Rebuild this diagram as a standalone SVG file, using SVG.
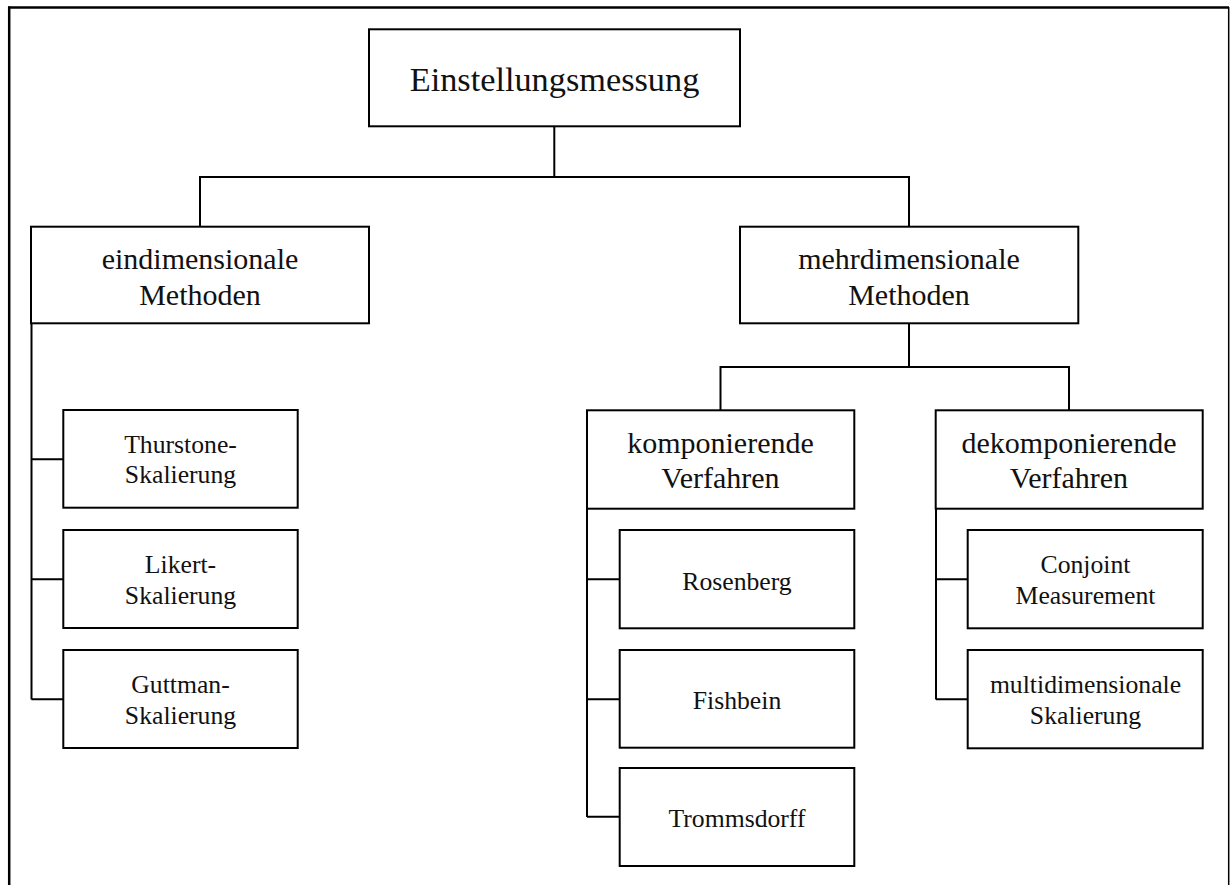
<svg xmlns="http://www.w3.org/2000/svg" width="1230" height="885" viewBox="0 0 1230 885">
  <style>
    .box { fill: #fff; stroke: #000; stroke-width: 2; }
    .link { fill: none; stroke: #000; stroke-width: 2; }
    text { font-family: "Liberation Serif", "Times New Roman", serif; fill: #111; text-anchor: middle; }
    .t1 { font-size: 34.3px; }
    .t2 { font-size: 30px; }
    .t3 { font-size: 25.7px; }
  </style>
  <rect width="1230" height="885" fill="#fff"/>

  <!-- outer frame (open at the bottom) -->
  <g id="frame" fill="none" stroke="#000">
    <line x1="8" y1="7.5" x2="1229" y2="7.5" stroke-width="2.5"/>
    <line x1="9.2" y1="6.5" x2="9.2" y2="885" stroke-width="2.5"/>
    <line x1="1228.7" y1="7" x2="1228.7" y2="885" stroke-width="1.5"/>
  </g>

  <!-- connectors -->
  <g id="connectors" class="link">
    <path d="M554.3 126 V177 M200 227 V177 H909 V227"/>
    <path d="M31.5 323 V699.5 M31.5 459.3 H63.5 M31.5 579.3 H63.5 M31.5 699.3 H63.5"/>
    <path d="M909 323 V367 M720.5 410 V367 H1069 V410"/>
    <path d="M587 509 V817 M587 579.3 H620 M587 699.3 H620 M587 816.8 H620"/>
    <path d="M936 509 V699.5 M936 579.3 H968 M936 699.3 H968"/>
  </g>

  <g id="n-einstellungsmessung">
    <rect class="box" x="369" y="29.3" width="371" height="97"/>
    <text class="t1" x="554.5" y="90.7">Einstellungsmessung</text>
  </g>

  <g id="n-eindimensional">
    <rect class="box" x="31" y="226.7" width="338" height="96.6"/>
    <text class="t2" x="200" y="269.3">eindimensionale</text>
    <text class="t2" x="200" y="305">Methoden</text>
  </g>

  <g id="n-mehrdimensional">
    <rect class="box" x="740" y="226.7" width="338.3" height="96.6"/>
    <text class="t2" x="909" y="269.3">mehrdimensionale</text>
    <text class="t2" x="909" y="305">Methoden</text>
  </g>

  <g id="n-thurstone">
    <rect class="box" x="63.3" y="410" width="234.4" height="97.7"/>
    <text class="t3" x="180.5" y="452.7">Thurstone-</text>
    <text class="t3" x="180.5" y="483.3">Skalierung</text>
  </g>

  <g id="n-likert">
    <rect class="box" x="63.3" y="530" width="234.4" height="98"/>
    <text class="t3" x="180.5" y="573.3">Likert-</text>
    <text class="t3" x="180.5" y="604">Skalierung</text>
  </g>

  <g id="n-guttman">
    <rect class="box" x="63.3" y="650" width="234.4" height="98"/>
    <text class="t3" x="180.5" y="693.3">Guttman-</text>
    <text class="t3" x="180.5" y="724">Skalierung</text>
  </g>

  <g id="n-komponierend">
    <rect class="box" x="587" y="410.3" width="267.3" height="98.4"/>
    <text class="t2" x="720.5" y="452.5">komponierende</text>
    <text class="t2" x="720.5" y="488">Verfahren</text>
  </g>

  <g id="n-dekomponierend">
    <rect class="box" x="935.7" y="410.3" width="267" height="98.4"/>
    <text class="t2" x="1069" y="452.5">dekomponierende</text>
    <text class="t2" x="1069" y="488">Verfahren</text>
  </g>

  <g id="n-rosenberg">
    <rect class="box" x="619.7" y="530" width="234.6" height="98.3"/>
    <text class="t3" x="737" y="590">Rosenberg</text>
  </g>

  <g id="n-fishbein">
    <rect class="box" x="619.7" y="650" width="234.6" height="97.7"/>
    <text class="t3" x="737" y="709.3">Fishbein</text>
  </g>

  <g id="n-trommsdorff">
    <rect class="box" x="619.7" y="768" width="234.6" height="98"/>
    <text class="t3" x="737" y="826.7">Trommsdorff</text>
  </g>

  <g id="n-conjoint">
    <rect class="box" x="967.7" y="530" width="235" height="98.3"/>
    <text class="t3" x="1085.5" y="573.3">Conjoint</text>
    <text class="t3" x="1085.5" y="604">Measurement</text>
  </g>

  <g id="n-mds">
    <rect class="box" x="967.7" y="650" width="235" height="98.3"/>
    <text class="t3" x="1085.5" y="693.3">multidimensionale</text>
    <text class="t3" x="1085.5" y="724">Skalierung</text>
  </g>
</svg>
